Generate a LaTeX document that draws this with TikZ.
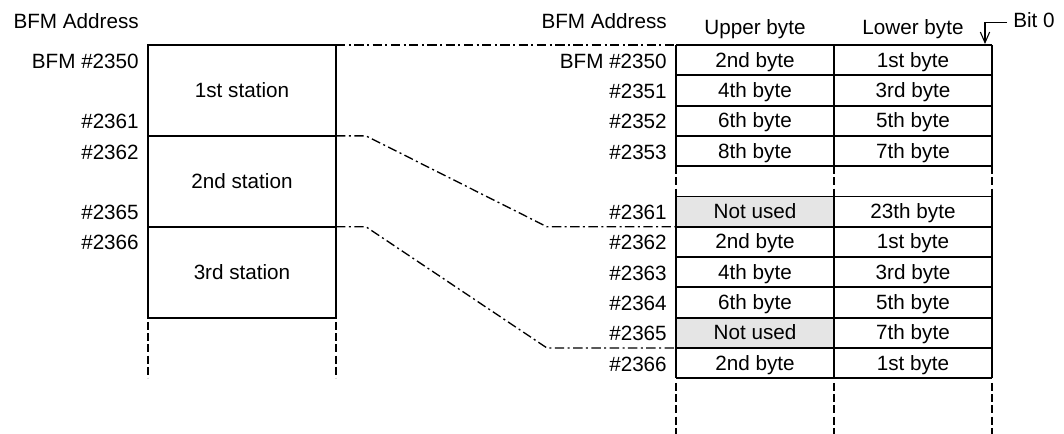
\documentclass[tikz,border=0pt]{standalone}
\usepackage{fontspec}
\setmainfont{Liberation Sans}
\usetikzlibrary{calc,arrows.meta}

\begin{document}
\begin{tikzpicture}[x=0.75pt,y=-0.75pt,
  every node/.style={font=\fontsize{15.5}{18}\selectfont,inner sep=0pt},
  cell/.style={anchor=base,yshift=-5.25pt},
  addr/.style={anchor=base east,yshift=-6pt},
  rule/.style={line width=1.4pt},
  gapline/.style={line width=1.4pt,dash pattern=on 6pt off 2.4pt},
  link/.style={line width=1pt,dash pattern=on 7pt off 2.6pt on 1.5pt off 2.6pt},
  unused/.style={fill=black!10},
  arr/.style={line width=0.8pt,-{Straight Barb[length=8pt,width=7pt]}}]
  \def\h{30.3}

  \useasboundingbox (0,0) rectangle (1064,434);

  % left: stations
  \begin{scope}[shift={(148,45)}]
    \coordinate (s1) at (188,0);
    \coordinate (s2) at (188,3*\h);
    \coordinate (s3) at (188,6*\h);

    \draw[rule] (0,0) rectangle (188,9*\h);
    \draw[rule] (0,3*\h) -- (s2);
    \draw[rule] (0,6*\h) -- (s3);
    \draw[gapline] (0,277) -- (0,333);
    \draw[gapline] (188,277) -- (188,333);

    \node[anchor=base east] (headL) at (-9,-16) {BFM Address};

    \node[cell] (st1) at (94,1.5*\h) {1st station};
    \node[cell] (st2) at (94,4.5*\h) {2nd station};
    \node[cell] (st3) at (94,7.5*\h) {3rd station};

    \node[addr] (la0) at (-9,0.5*\h) {BFM \#2350};
    \node[addr] (la2) at (-9,2.5*\h) {\#2361};
    \node[addr] (la3) at (-9,3.5*\h) {\#2362};
    \node[addr] (la5) at (-9,5.5*\h) {\#2365};
    \node[addr] (la6) at (-9,6.5*\h) {\#2366};
  \end{scope}


  % right: buffer memory words
  \begin{scope}[shift={(676,45)}]
    \coordinate (w0) at (0,0);
    \coordinate (w1) at (0,6*\h);
    \coordinate (w2) at (0,10*\h);
    \coordinate (b0) at (309,-1);

    \fill[unused] (0,5*\h) rectangle (158,6*\h);
    \fill[unused] (0,9*\h) rectangle (158,10*\h);

    \draw[rule] (0,0) -- (316,0) (0,\h) -- (316,\h) (0,2*\h) -- (316,2*\h)
      (0,3*\h) -- (316,3*\h) (0,4*\h) -- (316,4*\h);
    \draw[rule] (0,5*\h) -- (316,5*\h) (0,6*\h) -- (316,6*\h) (0,7*\h) -- (316,7*\h)
      (0,8*\h) -- (316,8*\h) (0,9*\h) -- (316,9*\h) (0,10*\h) -- (316,10*\h)
      (0,11*\h) -- (316,11*\h);
    \draw[rule] (0,0) -- (0,4*\h) (158,0) -- (158,4*\h) (316,0) -- (316,4*\h);
    \draw[gapline] (0,4*\h) -- (0,5*\h) (158,4*\h) -- (158,5*\h) (316,4*\h) -- (316,5*\h);
    \draw[rule] (0,5*\h) -- (0,11*\h) (158,5*\h) -- (158,11*\h) (316,5*\h) -- (316,11*\h);
    \draw[gapline] (0,338) -- (0,389) (158,338) -- (158,389) (316,338) -- (316,389);

    \node[anchor=base east] (headR) at (-9,-16) {BFM Address};
    \node[anchor=base] (upper) at (79,-10) {Upper byte};
    \node[anchor=base] (lower) at (237,-10) {Lower byte};
    \node[anchor=base west] (bit) at (337,-17) {Bit 0};
    \draw[arr] ([xshift=-4.5pt,yshift=-1.5pt]bit.west) -| (b0);

    % first station
    \node[addr] (ra0) at (-9,0.5*\h) {BFM \#2350};
    \node[cell] (u0) at (79,0.5*\h) {2nd byte};
    \node[cell] (l0) at (237,0.5*\h) {1st byte};
    \node[addr] (ra1) at (-9,1.5*\h) {\#2351};
    \node[cell] (u1) at (79,1.5*\h) {4th byte};
    \node[cell] (l1) at (237,1.5*\h) {3rd byte};
    \node[addr] (ra2) at (-9,2.5*\h) {\#2352};
    \node[cell] (u2) at (79,2.5*\h) {6th byte};
    \node[cell] (l2) at (237,2.5*\h) {5th byte};
    \node[addr] (ra3) at (-9,3.5*\h) {\#2353};
    \node[cell] (u3) at (79,3.5*\h) {8th byte};
    \node[cell] (l3) at (237,3.5*\h) {7th byte};
    \node[addr] (ra5) at (-9,5.5*\h) {\#2361};
    \node[cell] (u5) at (79,5.5*\h) {Not used};
    \node[cell] (l5) at (237,5.5*\h) {23th byte};

    % second station
    \node[addr] (ra6) at (-9,6.5*\h) {\#2362};
    \node[cell] (u6) at (79,6.5*\h) {2nd byte};
    \node[cell] (l6) at (237,6.5*\h) {1st byte};
    \node[addr] (ra7) at (-9,7.5*\h) {\#2363};
    \node[cell] (u7) at (79,7.5*\h) {4th byte};
    \node[cell] (l7) at (237,7.5*\h) {3rd byte};
    \node[addr] (ra8) at (-9,8.5*\h) {\#2364};
    \node[cell] (u8) at (79,8.5*\h) {6th byte};
    \node[cell] (l8) at (237,8.5*\h) {5th byte};
    \node[addr] (ra9) at (-9,9.5*\h) {\#2365};
    \node[cell] (u9) at (79,9.5*\h) {Not used};
    \node[cell] (l9) at (237,9.5*\h) {7th byte};

    % third station
    \node[addr] (ra10) at (-9,10.5*\h) {\#2366};
    \node[cell] (u10) at (79,10.5*\h) {2nd byte};
    \node[cell] (l10) at (237,10.5*\h) {1st byte};
  \end{scope}

  % links between the two views
  \draw[link] (s1) -- (w0);
  \draw[link] (s2) -- ++(30,0) -- ($(w1)+(-129,0)$) -- (w1);
  \draw[link] (s3) -- ++(30,0) -- ($(w2)+(-129,0)$) -- (w2);

\end{tikzpicture}
\end{document}
